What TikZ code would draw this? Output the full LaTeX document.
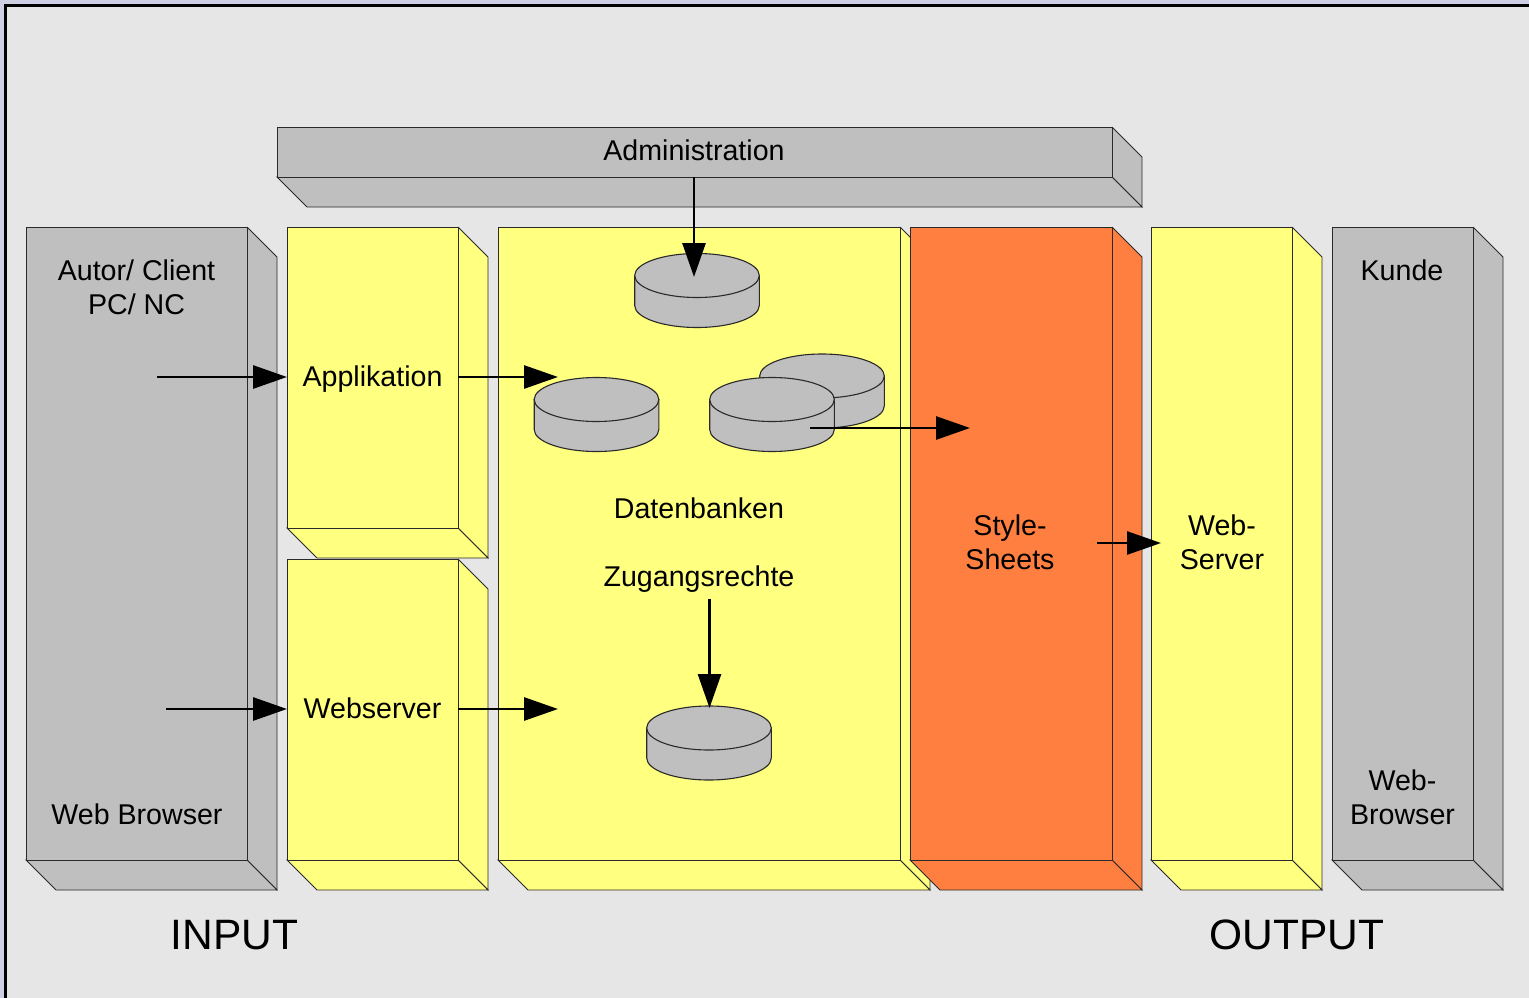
\documentclass[tikz,border=0pt]{standalone}
\usepackage{fontspec}
\setmainfont{Liberation Sans}
\usetikzlibrary{arrows.meta,fit,calc}
\definecolor{pagebg}{HTML}{CFCFE3}
\definecolor{panelbg}{HTML}{E6E6E6}
\definecolor{greyface}{HTML}{BFBFBF}
\definecolor{yellowface}{HTML}{FFFF80}
\definecolor{orangeface}{HTML}{FF7F40}
\definecolor{edge}{HTML}{2A2A2A}
\tikzset{
  edgeline/.style={draw=edge,line width=0.85pt,line join=miter},
  face/.style={edgeline,fit=#1,inner sep=0pt,outer sep=0pt},
  conn/.style={line width=2.8pt,-{Triangle[length=34pt,width=23pt]},black},
  lab/.style={font=\fontsize{28.6}{34}\selectfont,align=center,inner sep=0pt,text=black},
  biglab/.style={font=\fontsize{42.5}{48}\selectfont,inner sep=0pt,text=black},
}
% name, x1, y1, x2, y2, fill colour
\newcommand{\boxthree}[6]{%
  \coordinate (#1-a) at (#2,#3);
  \coordinate (#1-b) at (#4,#5);
  \fill[#6] (#4,#3) -- ++(30,30) -- ++(0,#5-#3) -- (#4,#5) -- cycle;
  \draw[edgeline] (#4,#3) -- ++(30,30) -- (#4+30,#5+30) -- (#4,#5);
  \path[edgeline,fill=#6] (#2,#5) -- (#4,#5) -- (#4+30,#5+30) -- (#2+30,#5+30) -- cycle;
  \node[face={(#1-a)(#1-b)},fill=#6] (#1) {};
}
% name, centre x, centre y of top ellipse
\newcommand{\drum}[3]{%
  \path[edgeline,line width=1.1pt,fill=greyface] (#2-62.3,#3) -- (#2-62.3,#3+30) arc[start angle=180,end angle=0,x radius=62.3,y radius=22] -- (#2+62.3,#3) -- cycle;
  \path[edgeline,line width=1.1pt,fill=greyface] (#2,#3) ellipse[x radius=62.3,y radius=22];
  \coordinate (#1) at (#2,#3);
}
\begin{document}
\begin{tikzpicture}[x=1pt,y=-1pt]
\useasboundingbox (0,0) rectangle (1529,998);
\fill[pagebg] (0,0) rectangle (1529,998);
\fill[panelbg] (5.5,5.5) rectangle (1529,998);
\draw[black,line width=2.6pt] (5.5,998) -- (5.5,5.5) -- (1529,5.5);

\boxthree{admin}{277}{127}{1112}{177}{greyface}
\boxthree{autor}{26}{227}{247}{860}{greyface}
\boxthree{appl}{287}{227}{458}{528}{yellowface}
\boxthree{websrv}{287}{559}{458}{860}{yellowface}
\boxthree{daten}{498}{227}{900}{860}{yellowface}
\boxthree{style}{910}{227}{1112}{860}{orangeface}
\boxthree{server}{1151}{227}{1292}{860}{yellowface}
\boxthree{kunde}{1332}{227}{1473}{860}{greyface}

\drum{dbtop}{697}{275.5}
\drum{dbleft}{596.5}{399.5}
\drum{dbrear}{822}{376}
\drum{dbfront}{772}{399.5}
\drum{dbbottom}{709}{728}

\node[lab] (tadmin) at (694,150) {Administration};
\node[lab] (tautor) at (136.5,287) {Autor/ Client\\PC/ NC};
\node[lab] (tbrowser) at (137,814) {Web Browser};
\node[lab] (tappl) at (372.5,379) {Applikation};
\node[lab] (twebsrv) at (372.5,708) {Webserver};
\node[lab] (tdaten) at (699,508) {Datenbanken};
\node[lab] (tzugang) at (699,579) {Zugangsrechte};
\node[lab] (tstyle) at (1010,542) {Style-\\Sheets};
\node[lab] (tserver) at (1222,542) {Web-\\Server};
\node[lab] (tkunde) at (1402,270) {Kunde};
\node[lab] (tkbrowser) at (1402.5,797) {Web-\\Browser};
\node[biglab] (tinput) at (234.5,935) {INPUT};
\node[biglab] (toutput) at (1297,935) {OUTPUT};

\coordinate (s1) at (157,377);
\coordinate (s2) at (166,709);
\coordinate (e1) at (558,377);
\coordinate (e2) at (558,709);
\coordinate (s3) at (810,428);
\coordinate (e3) at (970,428);
\coordinate (s4) at (1097,543);
\coordinate (e4) at (1161,543);
\coordinate (s5) at (709.5,599);
\coordinate (e5) at (709.5,708);
\coordinate (e6) at (694,277);

\draw[conn] (s1) -- (s1 -| appl.west);
\draw[conn] (s2) -- (s2 -| websrv.west);
\draw[conn] (e1 -| appl.east) -- (e1);
\draw[conn] (e2 -| websrv.east) -- (e2);
\draw[conn] (e6 |- admin.south) -- (e6);
\draw[conn] (s3) -- (e3);
\draw[conn] (s4) -- (e4);
\draw[conn] (s5) -- (e5);
\end{tikzpicture}
\end{document}
